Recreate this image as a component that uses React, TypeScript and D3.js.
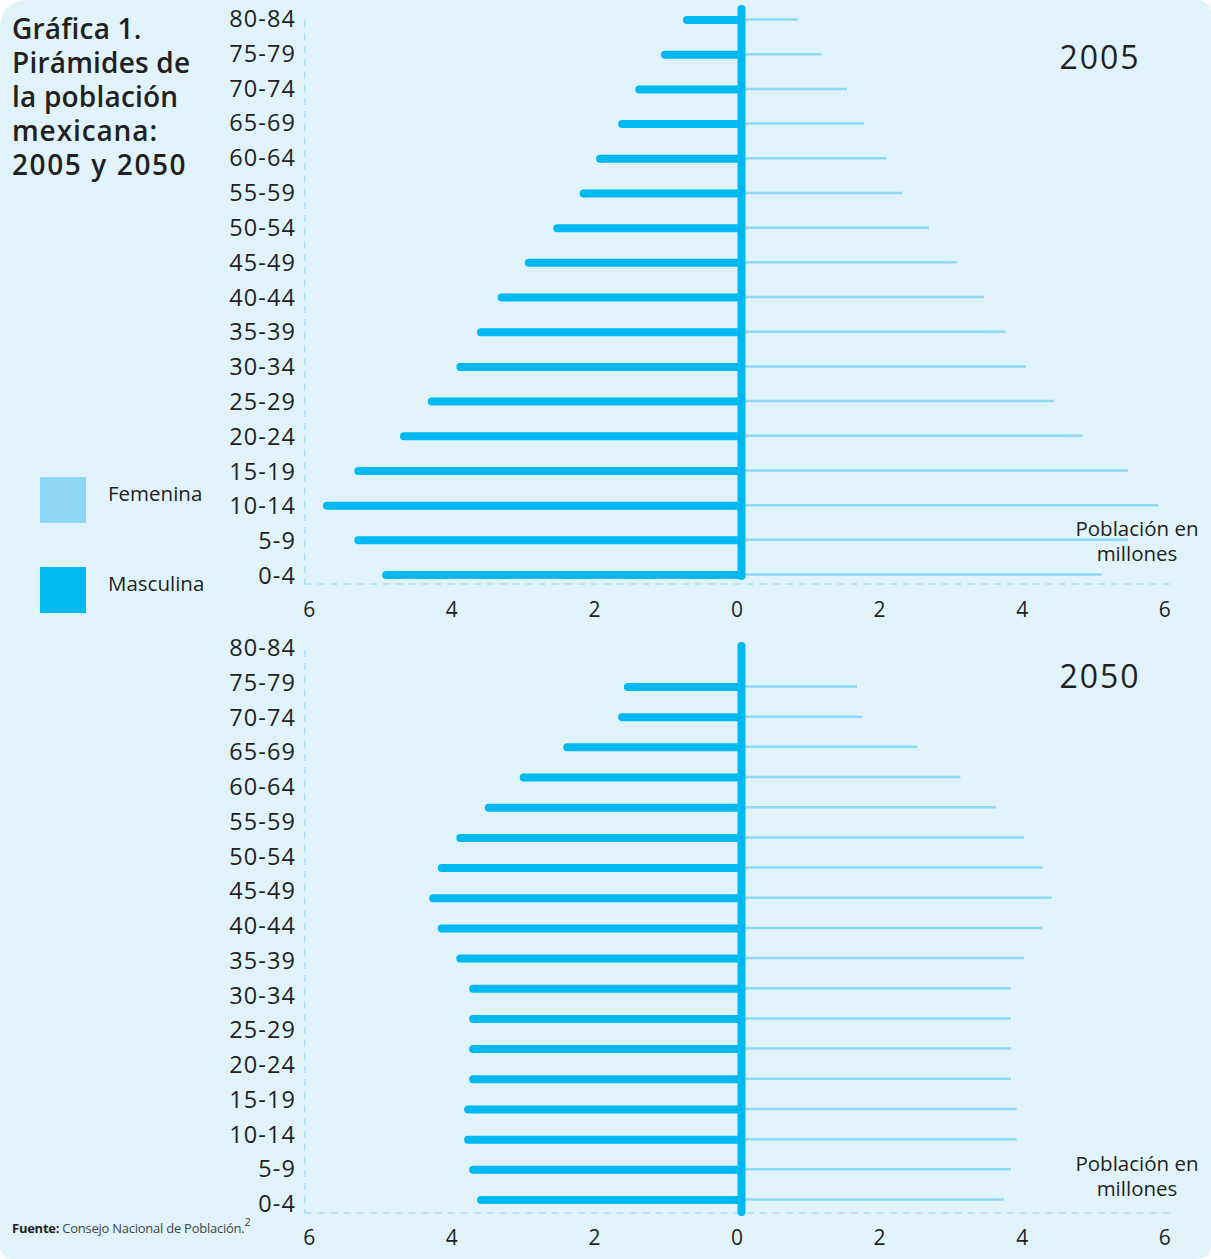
import React from "react";
import * as d3 from "d3";

// age groups, top (oldest) to bottom
const ageGroups = [
  "80-84", "75-79", "70-74", "65-69", "60-64", "55-59", "50-54", "45-49",
  "40-44", "35-39", "30-34", "25-29", "20-24", "15-19", "10-14", "5-9", "0-4",
];

// millions, top to bottom
const male2005 = [0.82, 1.13, 1.49, 1.73, 2.04, 2.27, 2.64, 3.04, 3.42, 3.71, 4.0, 4.4, 4.79, 5.43, 5.87, 5.43, 5.04];
const female2005 = [0.79, 1.12, 1.48, 1.72, 2.03, 2.25, 2.63, 3.02, 3.4, 3.7, 3.99, 4.38, 4.78, 5.42, 5.84, 5.42, 5.05];

// the 2050 panel has 18 bars under the 17 labels
const male2050 = [1.65, 1.73, 2.5, 3.11, 3.6, 4.0, 4.26, 4.38, 4.26, 4.0, 3.82, 3.82, 3.82, 3.82, 3.89, 3.89, 3.82, 3.71];
const female2050 = [1.62, 1.69, 2.46, 3.07, 3.57, 3.96, 4.22, 4.35, 4.22, 3.96, 3.78, 3.78, 3.78, 3.78, 3.86, 3.86, 3.78, 3.68];

const xTicks = [-6, -4, -2, 0, 2, 4, 6];
const titleLines = ["Gráfica 1.", "Pirámides de", "la población", "mexicana:", "2005 y 2050"];

const W = 1211;
const H = 1259;
const MALE = "#00b9f1";
const FEMALE = "#8ed7f7";
const BG = "#e0f3fb";
const GRID = "#a9dff6";
const INK = "#231f20";
const FONT = "'Open Sans', 'Noto Sans', sans-serif";

const x = d3.scaleLinear().domain([-6, 6]).range([741.5 - 6 * 71.3, 741.5 + 6 * 71.3]);
const cx = x(0);

const panels = [
  {
    year: "2005", male: male2005, female: female2005,
    bars: [20, 575], labels: [27, 584], spine: [9, 576],
    axisTop: 20, axisY: 584, tickY: 617, yearY: 69, unitY: [536, 561],
  },
  {
    year: "2050", male: male2050, female: female2050,
    bars: [687, 1200], labels: [656, 1212], spine: [646, 1212],
    axisTop: 650, axisY: 1213, tickY: 1245, yearY: 688, unitY: [1171, 1196],
  },
];

const Pyramid = ({ p }) => {
  const yBar = d3.scalePoint<number>().domain(d3.range(p.male.length)).range(p.bars);
  const yLab = d3.scalePoint<string>().domain(ageGroups).range(p.labels);
  const left = x(-6) - 9;
  const right = 1175;
  return (
    <g>
      <line x1={left} x2={left} y1={p.axisTop} y2={p.axisY} stroke={GRID} strokeWidth={1.5} strokeDasharray="7 6" />
      <line x1={left} x2={right} y1={p.axisY} y2={p.axisY} stroke={GRID} strokeWidth={1.5} strokeDasharray="7 6" />
      {ageGroups.map((a) => (
        <text key={a} x={296} y={yLab(a)} textAnchor="end" fontSize={23.5} letterSpacing={1.1} fill={INK}>{a}</text>
      ))}
      {p.female.map((v, i) => (
        <line key={"f" + i} x1={cx + 4} x2={x(v)} y1={yBar(i)! - 0.5} y2={yBar(i)! - 0.5} stroke={FEMALE} strokeWidth={2.5} />
      ))}
      {p.male.map((v, i) => (
        <line key={"m" + i} x1={cx} x2={x(-v) + 4} y1={yBar(i)} y2={yBar(i)} stroke={MALE} strokeWidth={8} strokeLinecap="round" />
      ))}
      <line x1={cx} x2={cx} y1={p.spine[0]} y2={p.spine[1]} stroke={MALE} strokeWidth={8} strokeLinecap="round" />
      {xTicks.map((t) => (
        <text key={t} x={x(t) - 4.5} y={p.tickY} textAnchor="middle" fontSize={21} fill={INK}>{Math.abs(t)}</text>
      ))}
      <text x={1100} y={p.yearY} textAnchor="middle" fontSize={32} letterSpacing={2} fill={INK}>{p.year}</text>
      <text x={1137} y={p.unitY[0]} textAnchor="middle" fontSize={20.5} fill={INK}>Población en</text>
      <text x={1137} y={p.unitY[1]} textAnchor="middle" fontSize={20.5} fill={INK}>millones</text>
    </g>
  );
};

const App = () => {
  const bgPath = `M30,0 H${W - 15} Q${W},0 ${W},15 V${H - 15} Q${W},${H} ${W - 15},${H} H15 Q0,${H} 0,${H - 15} V30 Q0,0 30,0 Z`;
  return (
    <div style={{ position: "absolute", left: 0, top: 0 }}>
      <svg width={W} height={H} style={{ display: "block" }} fontFamily={FONT}>
        <rect width={W} height={H} fill="#fff" />
        <path d={bgPath} fill={BG} />
        {titleLines.map((t, i) => (
          <text key={t} x={12} y={39 + i * 34} fontSize={28} fontWeight={650}
            letterSpacing={i === 4 ? 1.6 : i === 3 ? 0.9 : 0.2} fill={INK}>{t}</text>
        ))}
        <rect x={40} y={477} width={46} height={46} fill={FEMALE} />
        <text x={108} y={501} fontSize={20.5} fill={INK}>Femenina</text>
        <rect x={40} y={567} width={46} height={46} fill={MALE} />
        <text x={108} y={591} fontSize={20.5} fill={INK}>Masculina</text>
        {panels.map((p) => (
          <Pyramid key={p.year} p={p} />
        ))}
        <text x={12} y={1233} fontSize={13} letterSpacing={-0.25} fill={INK}>
          <tspan fontWeight={700}>Fuente:</tspan>
          <tspan fill="#444"> Consejo Nacional de Población.</tspan>
          <tspan fontSize={11} dy={-7} fill="#444">2</tspan>
        </text>
      </svg>
    </div>
  );
};

export default App;
